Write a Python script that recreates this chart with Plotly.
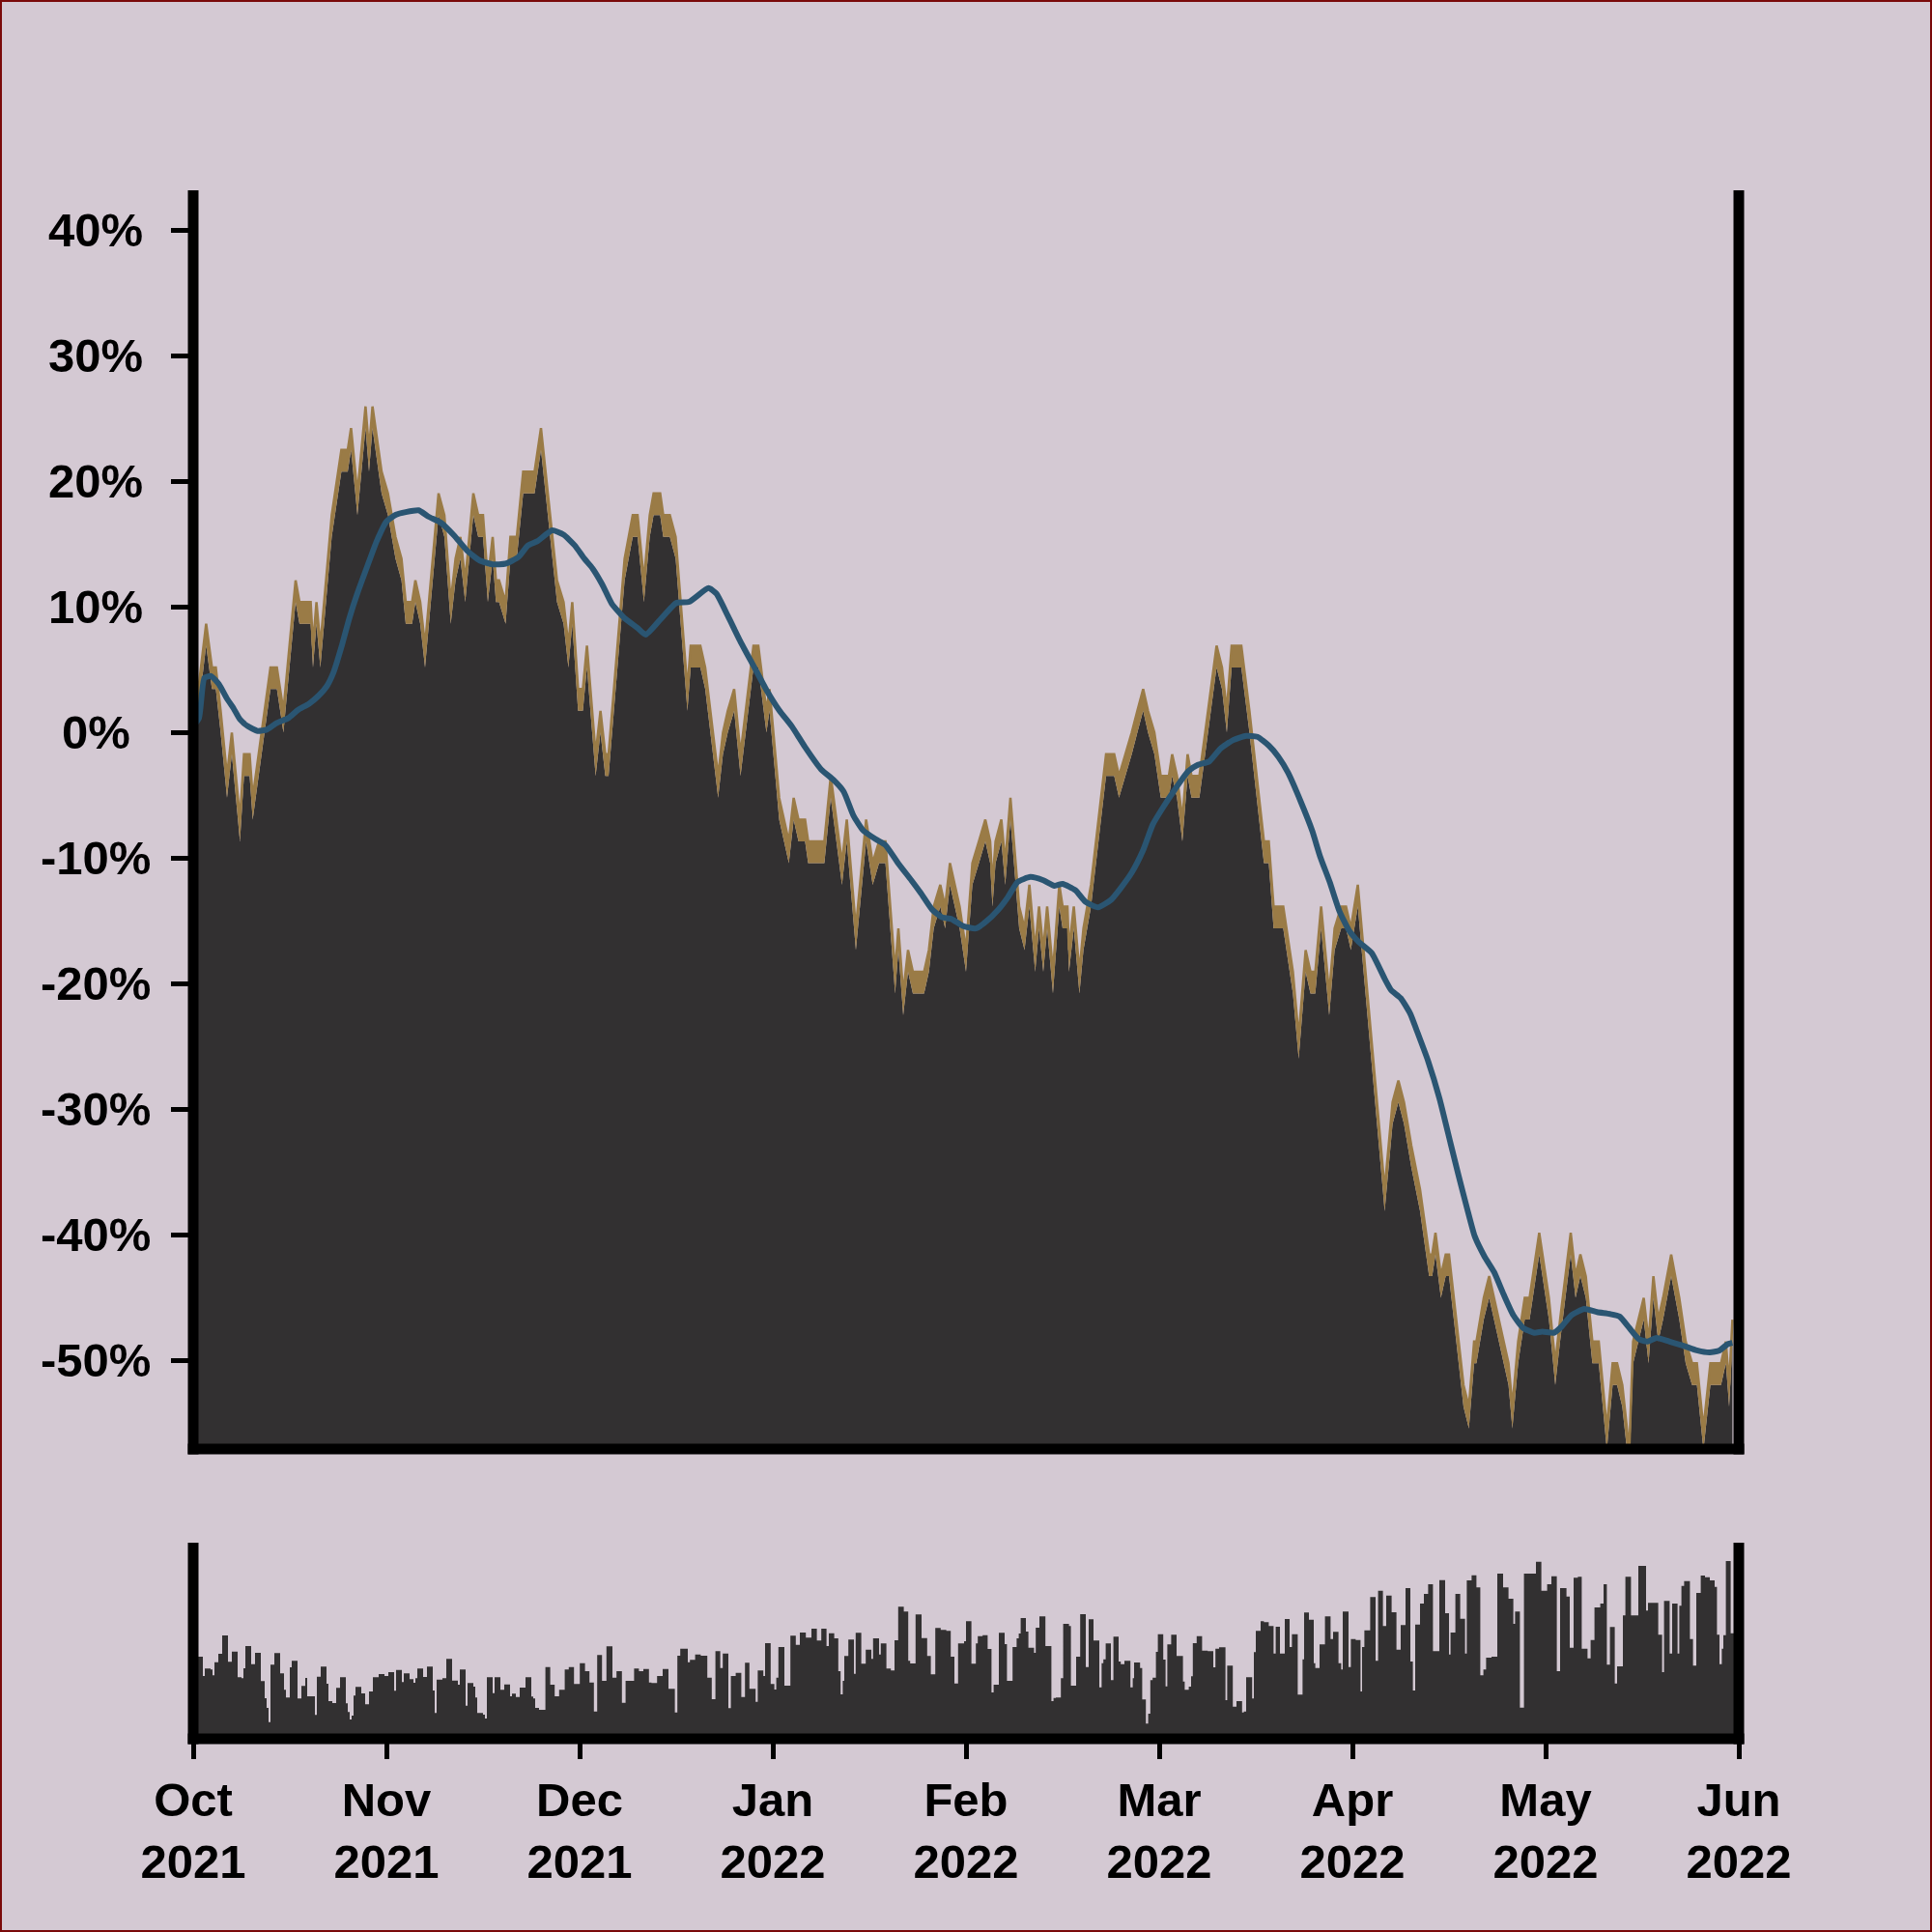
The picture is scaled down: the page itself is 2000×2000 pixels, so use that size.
import plotly.graph_objects as go

# ---------------- data ----------------
# positions are in months since 1 Oct 2021 (the axis spaces months evenly)
t_month = [0.0, 0.067, 0.097, 0.117, 0.142, 0.175, 0.2, 0.242, 0.263, 0.292,
           0.308, 0.367, 0.4, 0.433, 0.467, 0.53, 0.55, 0.608, 0.62, 0.638,
           0.658, 0.717, 0.767, 0.8, 0.817, 0.85, 0.892, 0.91, 0.928, 0.975,
           1.008, 1.047, 1.078, 1.1, 1.133, 1.15, 1.175, 1.2, 1.27, 1.3,
           1.333, 1.358, 1.383, 1.408, 1.45, 1.475, 1.5, 1.525, 1.55, 1.567,
           1.583, 1.617, 1.642, 1.675, 1.708, 1.767, 1.8, 1.883, 1.917, 1.942,
           1.962, 1.992, 2.017, 2.038, 2.083, 2.108, 2.133, 2.15, 2.233, 2.275,
           2.3, 2.333, 2.363,
           2.383, 2.417, 2.433, 2.467, 2.497, 2.558, 2.575, 2.625, 2.65, 2.692,
           2.717, 2.742, 2.767, 2.8, 2.833, 2.9, 2.925, 2.967, 2.983, 3.033,
           3.083, 3.108, 3.133, 3.167, 3.183, 3.267, 3.3, 3.358, 3.383, 3.43,
           3.483, 3.517, 3.55, 3.583, 3.633, 3.65, 3.675, 3.7, 3.725, 3.783,
           3.808, 3.833, 3.867, 3.892, 3.917, 3.942, 3.967, 4.0, 4.033, 4.067,
           4.1, 4.125, 4.137, 4.153, 4.183, 4.203, 4.23, 4.275, 4.303, 4.328,
           4.358, 4.378, 4.4, 4.42, 4.45, 4.483,
           4.5, 4.525, 4.533, 4.558, 4.587, 4.608, 4.647, 4.725, 4.767, 4.792,
           4.825, 4.858, 4.887, 4.917, 4.942, 4.975, 5.008, 5.05, 5.067, 5.092,
           5.12, 5.147, 5.167, 5.208, 5.238, 5.297, 5.325, 5.35, 5.375, 5.425,
           5.467, 5.542, 5.567, 5.592, 5.642, 5.692, 5.722, 5.758, 5.783, 5.808,
           5.838, 5.88, 5.908, 5.942, 5.967, 5.992, 6.028,
           6.167, 6.208, 6.238, 6.267, 6.305, 6.35, 6.397, 6.413, 6.43, 6.458,
           6.483, 6.5, 6.575, 6.603, 6.63, 6.642, 6.68, 6.708, 6.733, 6.808,
           6.828, 6.858, 6.892, 6.917, 6.967, 7.017, 7.05, 7.075, 7.13, 7.155,
           7.18, 7.208, 7.242, 7.275, 7.317, 7.347, 7.37, 7.397, 7.433, 7.453,
           7.508, 7.533, 7.558, 7.583, 7.608, 7.65, 7.692, 7.725, 7.758, 7.783,
           7.817, 7.853, 7.908, 7.933, 7.95, 7.967]

change_pct = [-1.73, 6.93, 3.46, 3.46, 0.0, -5.19, -1.73, -8.66, -3.46, -3.46,
              -6.93, 0.0, 3.46, 3.46, 0.0, 10.39, 8.66, 8.66, 5.19, 8.66,
              5.19, 15.58, 20.78, 20.78, 22.51, 17.32, 24.24, 20.78, 24.24, 19.05,
              17.32, 13.85, 12.12, 8.66, 8.66, 10.39, 8.66, 5.19, 17.32, 15.58,
              8.66, 12.12, 13.85, 10.39, 17.32, 15.58, 15.58, 10.39, 13.85, 10.39,
              10.39, 8.66, 13.85, 13.85, 19.05, 19.05, 22.51, 10.39, 8.66, 5.19,
              8.66, 1.73, 1.73, 5.19, -3.46, 0.0, -3.46, -3.46, 12.12, 15.58,
              15.58, 10.39, 15.58,
              17.32, 17.32, 15.58, 15.58, 13.85, 1.73, 5.19, 5.19, 3.46, -1.73,
              -5.19, -1.73, 0.0, 1.73, -3.46, 5.19, 5.19, 0.0, 1.73, -6.93,
              -10.39, -6.93, -8.66, -8.66, -10.39, -10.39, -5.19, -12.12, -8.66, -17.32,
              -8.66, -12.12, -10.39, -10.39, -20.78, -17.32, -22.51, -19.05, -20.78, -20.78,
              -19.05, -15.58, -13.85, -15.58, -12.12, -13.85, -15.58, -19.05, -12.12, -10.39,
              -8.66, -10.39, -13.85, -10.39, -8.66, -12.12, -6.93, -15.58, -17.32, -13.85,
              -19.05, -15.58, -19.05, -15.58, -20.78, -13.85,
              -15.58, -15.58, -19.05, -15.58, -20.78, -17.32, -13.85, -3.46, -3.46, -5.19,
              -3.46, -1.73, 0.0, 1.73, 0.0, -1.73, -5.19, -5.19, -3.46, -5.19,
              -8.66, -3.46, -5.19, -5.19, -1.73, 5.19, 3.46, 0.0, 5.19, 5.19,
              0.0, -10.39, -10.39, -15.58, -15.58, -20.78, -25.97, -19.05, -20.78, -20.78,
              -15.58, -22.51, -17.32, -15.58, -15.58, -17.32, -13.85,
              -38.10, -31.17, -29.44, -31.17, -34.63, -38.10, -43.29, -43.29, -41.56, -45.02,
              -43.29, -43.29, -53.68, -55.41, -50.22, -50.22, -46.75, -45.02, -46.75, -51.95,
              -55.41, -50.22, -46.75, -46.75, -41.56, -46.75, -51.95, -48.48, -41.56, -45.02,
              -43.29, -45.02, -50.22, -50.22, -57.14, -51.95, -51.95, -53.68, -58.87, -50.22,
              -46.75, -50.22, -45.02, -48.48, -46.75, -43.29, -46.75, -50.22, -51.95, -51.95,
              -57.14, -51.95, -51.95, -50.22, -53.68, -48.48]

TICK_PCT = 1.73   # one price tick: the light band drawn above the dark area

ma_t = [0.0, 0.03, 0.058, 0.092, 0.133, 0.175, 0.208, 0.242, 0.283, 0.333,
        0.383, 0.433, 0.492, 0.542, 0.6, 0.65, 0.692, 0.725, 0.767, 0.808,
        0.85, 0.9, 0.95, 1.0, 1.05, 1.1, 1.167, 1.217, 1.283, 1.35,
        1.417, 1.483, 1.55, 1.617, 1.683, 1.733, 1.783, 1.858, 1.917, 1.975,
        2.025, 2.067, 2.117, 2.167, 2.233, 2.3, 2.342, 2.417, 2.5, 2.567,
        2.667, 2.708, 2.767, 2.833, 2.9, 2.967, 3.033, 3.1, 3.167, 3.25,
        3.317, 3.367, 3.417, 3.467, 3.533, 3.583, 3.65, 3.717, 3.767, 3.825,
        3.875, 3.925, 3.983, 4.05, 4.1, 4.167, 4.217, 4.267, 4.333, 4.4,
        4.458, 4.5, 4.567, 4.617, 4.683, 4.75, 4.8, 4.858, 4.917, 4.967,
        5.017, 5.083, 5.15, 5.2, 5.258, 5.317, 5.383, 5.45, 5.508, 5.567,
        5.617, 5.667, 5.733, 5.792, 5.833, 5.883, 5.933, 5.983, 6.033, 6.1,
        6.167, 6.2, 6.25, 6.3, 6.333, 6.392, 6.45, 6.508, 6.55, 6.592,
        6.633, 6.683, 6.733, 6.783, 6.833, 6.883, 6.942, 6.983, 7.042, 7.083,
        7.133, 7.2, 7.267, 7.333, 7.383, 7.433, 7.483, 7.525, 7.575, 7.642,
        7.717, 7.783, 7.85, 7.9, 7.942, 7.967]

ma_pct = [0.5, 1.15, 4.35, 4.5, 3.85, 2.7, 1.95, 1.05, 0.5, 0.13,
          0.25, 0.77, 1.15, 1.8, 2.3, 2.95, 3.7, 4.74, 6.8, 9.1,
          11.1, 13.2, 15.25, 16.8, 17.35, 17.56, 17.7, 17.2, 16.7, 15.7,
          14.5, 13.7, 13.4, 13.45, 13.97, 14.9, 15.25, 16.1, 15.76, 14.9,
          13.84, 13.07, 11.8, 10.25, 9.1, 8.33, 7.8, 8.99, 10.32, 10.41,
          11.5, 11.06, 9.3, 7.23, 5.32, 3.4, 1.78, 0.46, -1.16, -2.93,
          -3.81, -4.7, -6.6, -7.78, -8.5, -8.96, -10.43, -11.76, -12.8, -14.1,
          -14.7, -14.85, -15.4, -15.6, -15.1, -14.1, -13.1, -11.9, -11.5, -11.76,
          -12.2, -12.05, -12.56, -13.46, -13.92, -13.33, -12.4, -11.15, -9.36, -7.31,
          -6.03, -4.49, -3.08, -2.57, -2.31, -1.28, -0.6, -0.26, -0.34, -1.03,
          -1.93, -3.2, -5.51, -7.82, -9.87, -11.92, -14.23, -15.77, -16.67, -17.56,
          -19.6, -20.5, -21.15, -22.4, -23.72, -26.16, -29.1, -32.7, -35.3, -37.8,
          -40.1, -41.7, -42.95, -44.75, -46.4, -47.4, -47.8, -47.7, -47.8, -47.3,
          -46.4, -45.9, -46.15, -46.3, -46.5, -47.4, -48.3, -48.5, -48.2, -48.5,
          -48.85, -49.2, -49.36, -49.2, -48.7, -48.6]

vol_t = [0.0, 0.05, 0.06, 0.09, 0.10, 0.11, 0.13, 0.15, 0.18, 0.20,
         0.23, 0.25, 0.26, 0.27, 0.30, 0.32, 0.35, 0.37, 0.38, 0.39,
         0.40, 0.42, 0.45, 0.47, 0.48, 0.50, 0.51, 0.54, 0.56, 0.58,
         0.59, 0.63, 0.64, 0.66, 0.69, 0.70, 0.72, 0.74, 0.76, 0.79,
         0.80, 0.81, 0.82, 0.83, 0.84, 0.87, 0.89, 0.91, 0.93, 0.96,
         0.99, 1.01, 1.04, 1.05, 1.08, 1.09, 1.12, 1.14, 1.15, 1.16,
         1.19, 1.21, 1.24, 1.25, 1.26, 1.29, 1.31, 1.34, 1.37, 1.38,
         1.41, 1.42, 1.45, 1.46, 1.47, 1.50, 1.51, 1.52, 1.55, 1.56,
         1.59, 1.61, 1.64, 1.65, 1.67, 1.69, 1.72, 1.75, 1.76, 1.77,
         1.79, 1.823, 1.848, 1.871, 1.894, 1.923, 1.944, 1.971, 2.001, 2.028,
         2.051, 2.074, 2.091, 2.116, 2.139, 2.17, 2.191, 2.219, 2.238, 2.282,
         2.307, 2.33, 2.359, 2.372, 2.401, 2.43, 2.46, 2.493, 2.506, 2.521,
         2.56, 2.571, 2.598, 2.627, 2.661, 2.684, 2.703, 2.728, 2.741, 2.77,
         2.783, 2.808, 2.837, 2.856, 2.879, 2.911, 2.922, 2.951, 2.96, 2.989,
         3.008, 3.018, 3.029, 3.06, 3.091, 3.119, 3.14, 3.171, 3.2, 3.228,
         3.251, 3.278, 3.29, 3.318, 3.339, 3.351, 3.362, 3.37, 3.391, 3.42,
         3.429, 3.458, 3.481, 3.51, 3.519, 3.55, 3.559, 3.588, 3.611, 3.63,
         3.649, 3.678, 3.701, 3.711, 3.739, 3.77, 3.799, 3.818, 3.841, 3.869,
         3.898, 3.921, 3.94, 3.959, 3.99, 4.0, 4.028, 4.051, 4.061, 4.086,
         4.112, 4.132, 4.143, 4.17, 4.2, 4.212, 4.241, 4.262, 4.273, 4.283,
         4.31, 4.323, 4.352, 4.361, 4.38, 4.411, 4.442, 4.453, 4.465, 4.491,
         4.503, 4.533, 4.543, 4.57, 4.591, 4.62, 4.635, 4.66, 4.69, 4.702,
         4.711, 4.723, 4.75, 4.763, 4.79, 4.801, 4.82, 4.851, 4.863, 4.87,
         4.901, 4.912, 4.931, 4.943, 4.954, 4.966, 4.983, 4.993, 5.021, 5.033,
         5.042, 5.062, 5.09, 5.123, 5.132, 5.153, 5.165, 5.174, 5.194, 5.222,
         5.251, 5.28, 5.291, 5.31, 5.343, 5.352, 5.381, 5.4, 5.429, 5.438,
         5.45, 5.481, 5.49, 5.5, 5.525, 5.542, 5.567, 5.592, 5.603, 5.625,
         5.65, 5.675, 5.687, 5.717, 5.742, 5.75, 5.775, 5.8, 5.808, 5.83,
         5.858, 5.887, 5.9, 5.928, 5.942, 5.95, 5.98, 5.992, 6.017, 6.042,
         6.05, 6.062, 6.092, 6.12, 6.133, 6.158, 6.175, 6.203, 6.228, 6.25,
         6.275, 6.3, 6.313, 6.325, 6.35, 6.37, 6.392, 6.417, 6.45, 6.48,
         6.5, 6.508, 6.533, 6.558, 6.583, 6.592, 6.617, 6.642, 6.662, 6.678,
         6.692, 6.72, 6.75, 6.78, 6.808, 6.833, 6.842, 6.867, 6.888, 6.922,
         6.95, 6.978, 7.008, 7.03, 7.058, 7.075, 7.108, 7.125, 7.145, 7.167,
         7.187, 7.217, 7.233, 7.253, 7.283, 7.3, 7.317, 7.333, 7.358, 7.37,
         7.4, 7.413, 7.442, 7.48, 7.52, 7.53, 7.583, 7.603, 7.613, 7.642,
         7.655, 7.683, 7.692, 7.703, 7.717, 7.747, 7.763, 7.78, 7.803, 7.825,
         7.85, 7.875, 7.887, 7.9, 7.912, 7.92, 7.933, 7.958, 7.967]

volume = [85, 65, 72.7, 71.7, 65.7, 79.3, 88, 107, 79.7, 90.3,
          63.7, 62.7, 73, 96, 77.3, 89, 59.7, 42, 32, 17.3,
          76.7, 88.7, 67.7, 50.7, 42.7, 74, 80.7, 41.7, 54.7, 63,
          44, 24.7, 64.3, 74.7, 57, 39, 37, 52.7, 63.7, 36.7,
          27.7, 20, 24, 44.7, 53.7, 47, 35.7, 49, 63.7, 67,
          65, 69, 49.7, 71.3, 58.7, 67.7, 61.7, 58, 62.7, 72.7,
          64, 74.7, 50, 26.7, 61.3, 62.7, 82.7, 60.3, 56, 71.7,
          34.3, 57.7, 54, 42.7, 26.7, 25, 21, 63.7, 47.3, 63.7,
          50.7, 56.3, 44, 46.7, 43.3, 53, 63.7, 43.7, 41.7, 32,
          30, 74.3, 56, 44, 50.7, 71.7, 74.3, 56.7, 78.3, 70,
          58.3, 28.3, 86.7, 60, 95.7, 63.3, 70, 37.3, 60, 72.7,
          70, 72.3, 58.3, 57.7, 65, 72.3, 51.7, 27.3, 86, 93.3,
          79.3, 81.7, 87.3, 86, 63.3, 41, 90.7, 73.3, 88.3, 31.7,
          65, 68.3, 43.3, 78.7, 51.7, 38.3, 70.7, 65, 99, 56.7,
          51, 63.3, 95, 55, 106.7, 97.3, 110, 104.7, 114, 101.7,
          114, 96, 109.3, 104, 70, 46, 60, 85.7, 102.7, 67.3,
          109.7, 77.7, 92.3, 82.7, 104, 87.3, 98.7, 72.7, 70.7, 102,
          136.7, 131.7, 80.7, 78, 128.7, 104.3, 85.7, 66.7, 114.7, 112.7,
          111.7, 85, 57.3, 98.7, 101, 121.7, 77.7, 98.7, 106.3, 107.3,
          93, 48, 56, 109.7, 98, 60, 95, 104, 109, 125,
          111, 94.3, 89, 115, 126.7, 96, 39, 42.3, 42.7, 62.7,
          119, 116.7, 55, 85, 129, 74.3, 123.7, 101.7, 53.3, 78.3,
          82.3, 98.7, 60.7, 105.7, 80, 77.3, 80.7, 53.3, 62.7, 79,
          73.3, 40.7, 15.7, 26, 60.7, 63.3, 90, 108.3, 82, 54.3,
          97.7, 107.7, 85.7, 59.3, 50.7, 54, 64.7, 99, 106.3, 91.3,
          90.7, 74, 93.3, 94.7, 40, 75.7, 33.3, 39, 27.3, 28.3,
          63.7, 41.7, 89.7, 111.7, 121.7, 120.7, 116.7, 88.3, 116, 88.3,
          124, 95, 108.3, 45.7, 82.3, 130.7, 123.3, 78.3, 73.3, 97.7,
          126.7, 103.3, 110.7, 78.3, 71.7, 131.7, 74.3, 103.3, 102.3, 49,
          95, 112.3, 146.7, 80.7, 153.3, 116.7, 148.3, 131, 92.3, 117.7,
          156, 80, 50, 118.3, 140, 150, 160, 90.7, 164.3, 130,
          87.3, 110, 150, 124.3, 88.3, 164, 169.3, 156.7, 65.7, 71.7,
          84, 85, 171, 156.7, 145, 119, 131.7, 32.3, 171, 171,
          183.3, 153.3, 160, 168.3, 70, 156, 147.3, 94.3, 166.7, 167.7,
          93.3, 83.3, 102.3, 136, 140, 160, 76.7, 115.7, 57.3, 75,
          127.7, 167.7, 127.7, 179, 132.7, 140.7, 107.7, 69, 142.7, 88.3,
          140, 88.3, 137.7, 158.3, 163.3, 103.3, 75.7, 151, 169, 167.3,
          164, 157.3, 107.7, 77.3, 93.3, 107.3, 184, 109.3, 109.3]

y_tick_vals = [40, 30, 20, 10, 0, -10, -20, -30, -40, -50]
y_tick_text = ['40%', '30%', '20%', '10%', '0%', '-10%', '-20%', '-30%', '-40%', '-50%']
x_tick_vals = [0, 1, 2, 3, 4, 5, 6, 7, 8]
x_tick_text = ['Oct<br>2021', 'Nov<br>2021', 'Dec<br>2021', 'Jan<br>2022', 'Feb<br>2022',
               'Mar<br>2022', 'Apr<br>2022', 'May<br>2022', 'Jun<br>2022']

# ---------------- styling ----------------
BG = '#d4c9d3'
DARK = '#323031'
TAN = '#9a7b46'
BLUE = '#2a5572'
Y_RANGE = [-57.05, 42.95]
X_RANGE = [0, 8]
VOL_RANGE = [0, 200]
FONT = dict(family='Liberation Sans, Arial, sans-serif', size=49, color='black', weight='bold')

W = H = 2000
ML = MR = MT = MB = 200
PW, PH = W - ML - MR, H - MT - MB
MAIN_DOM = [300 / PH, 1.0]
VOL_DOM = [0.0, 200 / PH]
YLABEL_CENTER_X = -101 / PW     # y tick labels are centred in a column left of the axis

upper_pct = [v + TICK_PCT for v in change_pct]

fig = go.Figure()
# invisible floor so the dark area fills to the bottom of the panel
fig.add_trace(go.Scatter(x=[t_month[0], t_month[-1]], y=[Y_RANGE[0] - 10] * 2,
                         mode='lines', line=dict(width=0), hoverinfo='skip',
                         showlegend=False, xaxis='x', yaxis='y'))
fig.add_trace(go.Scatter(x=t_month, y=change_pct, mode='lines',
                         line=dict(width=0, color=DARK), fill='tonexty', fillcolor=DARK,
                         showlegend=False, xaxis='x', yaxis='y'))
fig.add_trace(go.Scatter(x=t_month, y=upper_pct, mode='lines',
                         line=dict(width=2.5, color=TAN), fill='tonexty', fillcolor=TAN,
                         showlegend=False, xaxis='x', yaxis='y'))
fig.add_trace(go.Scatter(x=ma_t, y=ma_pct, mode='lines',
                         line=dict(width=6, color=BLUE, shape='spline', smoothing=0.5),
                         showlegend=False, xaxis='x', yaxis='y'))
fig.add_trace(go.Scatter(x=vol_t + [7.975], y=volume + [volume[-1]], mode='lines',
                         line=dict(width=0, shape='hv', color=DARK), fill='tozeroy',
                         fillcolor=DARK, showlegend=False, xaxis='x2', yaxis='y2'))

common = dict(showgrid=False, zeroline=False, showline=False)
fig.update_layout(
    width=W, height=H,
    margin=dict(l=ML, r=MR, t=MT, b=MB, autoexpand=False),
    paper_bgcolor=BG, plot_bgcolor=BG,
    showlegend=False,
    xaxis=dict(domain=[0, 1], anchor='y', range=X_RANGE, showticklabels=False,
               ticks='', **common),
    yaxis=dict(domain=MAIN_DOM, anchor='x', range=Y_RANGE, tickvals=y_tick_vals,
               showticklabels=False, ticks='outside', ticklen=22, tickwidth=4.5,
               tickcolor='black', **common),
    xaxis2=dict(domain=[0, 1], anchor='y2', range=X_RANGE, tickvals=x_tick_vals,
                ticktext=x_tick_text, ticks='outside', ticklen=20, tickwidth=4.5,
                tickcolor='black', tickfont=FONT, **common),
    yaxis2=dict(domain=VOL_DOM, anchor='x2', range=VOL_RANGE, showticklabels=False,
                ticks='', **common),
)

# centred y tick labels
fig.update_layout(annotations=[
    dict(text=txt, x=YLABEL_CENTER_X, y=val, xref='paper', yref='y',
         xanchor='center', yanchor='middle', showarrow=False, font=FONT)
    for val, txt in zip(y_tick_vals, y_tick_text)
])

# axis lines centred on the panel edges (thick black frame, open at the top)
LW = 11
px = 1 / PW
py = 1 / PH
shapes = []
for (y0, y1) in (MAIN_DOM, VOL_DOM):
    for xx in (0, 1):
        shapes.append(dict(type='line', xref='paper', yref='paper', x0=xx, x1=xx,
                           y0=y0 - 5.5 * py, y1=y1 + 3 * py,
                           line=dict(color='black', width=LW), layer='above'))
    shapes.append(dict(type='line', xref='paper', yref='paper', x0=-5.5 * px, x1=1 + 5.5 * px,
                       y0=y0, y1=y0, line=dict(color='black', width=LW), layer='above'))
# thin dark-red border round the whole picture
shapes.append(dict(type='rect', xref='paper', yref='paper',
                   x0=-(ML - 1) / PW, x1=1 + (MR - 1) / PW,
                   y0=-(MB - 1) / PH, y1=1 + (MT - 1) / PH,
                   line=dict(color='#7a0a0a', width=2), fillcolor='rgba(0,0,0,0)', layer='above'))
fig.update_layout(shapes=shapes)

fig.write_html('out.html', config={'displayModeBar': False},
               post_script="document.body.style.margin='0';document.body.style.padding='0';")
